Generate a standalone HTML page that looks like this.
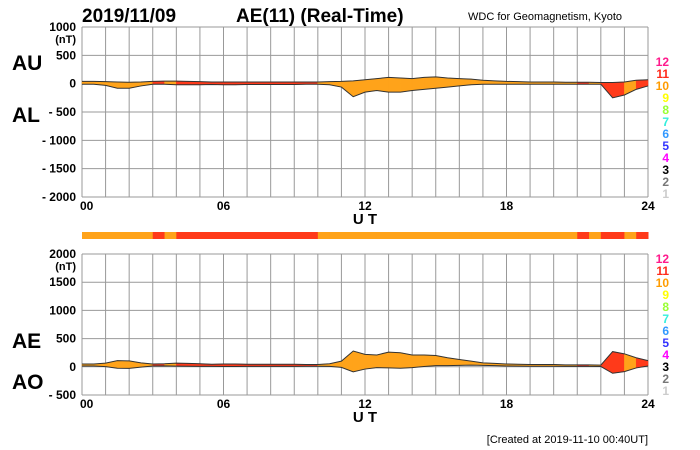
<!DOCTYPE html>
<html><head><meta charset="utf-8"><style>
body{margin:0;background:#fff;}
svg{display:block;font-family:"Liberation Sans",sans-serif;}
</style></head><body>
<svg id="c" width="700" height="450" viewBox="0 0 700 450">
<text x="82" y="22" font-size="19" font-weight="bold">2019/11/09</text>
<text x="236" y="22" font-size="19" font-weight="bold">AE(11) (Real-Time)</text>
<text x="468" y="20" font-size="11">WDC for Geomagnetism, Kyoto</text>
<text x="12" y="70" font-size="21" font-weight="bold">AU</text>
<text x="12" y="122" font-size="21" font-weight="bold">AL</text>
<text x="12" y="348" font-size="21" font-weight="bold">AE</text>
<text x="12" y="389" font-size="21" font-weight="bold">AO</text>
<text x="648" y="443" font-size="11" text-anchor="end">[Created at 2019-11-10 00:40UT]</text>
<g id="g"></g>
</svg>
<script>
const hours=[];for(let i=0;i<=48;i++)hours.push(i/2);
const AU=[40,40,35,30,25,30,40,45,45,40,35,30,30,30,30,30,30,30,30,30,30,35,40,50,70,90,110,100,90,110,120,100,90,80,60,50,40,35,30,30,30,25,25,25,20,20,30,60,70];
const AL=[-10,-10,-30,-80,-80,-40,-10,-10,-20,-20,-20,-15,-20,-20,-15,-15,-15,-15,-15,-10,-10,-20,-60,-230,-150,-120,-150,-150,-120,-100,-80,-60,-40,-20,-10,-10,-10,-10,-10,-10,-10,-10,-10,-10,-10,-250,-200,-100,-40];
const stations=[10,10,10,10,10,10,11,10,11,11,11,11,11,11,11,11,11,11,11,11,10,10,10,10,10,10,10,10,10,10,10,10,10,10,10,10,10,10,10,10,10,10,11,10,11,11,10,11];
const xTicks=["00","06","12","18","24"];
const topTicks=[1000,500,0,-500,-1000,-1500,-2000];
const botTicks=[2000,1500,1000,500,0,-500];
const legendNums=[12,11,10,9,8,7,6,5,4,3,2,1];
const legendCols=["#ff1a8c","#ff2a1a","#ff9c00","#ffff00","#99ff33","#33eedd","#3399ff","#3333ff","#ff00ff","#000","#777","#ccc"];
const colFor=n=>n>=11?"#ff3a1a":"#ffa31a";
const NS="http://www.w3.org/2000/svg",G=document.getElementById('g');
function el(t,a,txt){const e=document.createElementNS(NS,t);for(const k in a)e.setAttribute(k,a[k]);if(txt!==undefined)e.textContent=txt;G.appendChild(e);return e;}
const X0=82,X1=648;const x=h=>X0+(X1-X0)*h/24;
function panel(top,bot,vmax,vmin,ticks,upper,lower,name,legTop){
  const y=v=>top+(vmax-v)/(vmax-vmin)*(bot-top);
  for(let h=0;h<=24;h++){const g=el('line',{x1:x(h),x2:x(h),y1:top,y2:bot,stroke:'#999','stroke-width':1});}
  for(let v=vmin;v<=vmax;v+=500){const g=el('line',{x1:X0,x2:X1,y1:y(v),y2:y(v),stroke:'#999','stroke-width':1});}
  ticks.forEach((v,i)=>{const t=el('text',{x:76,y:y(v)+4,'font-size':12,'font-weight':'bold','text-anchor':'end'},v<0?'- '+(-v):String(v));});
  const u=el('text',{x:76,y:y(vmax)+16,'font-size':11,'font-weight':'bold','text-anchor':'end'},'(nT)');
  for(let i=0;i<48;i++){const p=el('polygon',{points:`${x(hours[i])},${y(upper[i])} ${x(hours[i+1])},${y(upper[i+1])} ${x(hours[i+1])},${y(lower[i+1])} ${x(hours[i])},${y(lower[i])}`,fill:colFor(stations[i]),stroke:colFor(stations[i]),'stroke-width':0.5});}
  [upper,lower].forEach(arr=>{const l=el('polyline',{points:arr.map((v,i)=>x(hours[i])+','+y(v)).join(' '),fill:'none',stroke:'#333','stroke-width':1});});
  xTicks.forEach((t,i)=>{const h=i*6;const e=el('text',{x:i==0?x(h)-2:x(h),y:bot+13,'font-size':12,'font-weight':'bold','text-anchor':i==0?'start':'middle'},t);});
  const ut=el('text',{x:x(12),y:bot+27,'font-size':15,'font-weight':'bold','text-anchor':'middle'},'U T');
  legendNums.forEach((n,i)=>{const e=el('text',{x:669,y:legTop+i*12,'font-size':12,'font-weight':'bold','text-anchor':'end',fill:legendCols[i]},String(n));});
}
panel(27,197,1000,-2000,topTicks,AU,AL,'au-al',66);
const AE=AU.map((v,i)=>v-AL[i]);const AO=AU.map((v,i)=>(v+AL[i])/2);
panel(254,395,2000,-500,botTicks,AE,AO,'ae-ao',263);
for(let i=0;i<48;i++){const r=el('rect',{x:x(hours[i]),y:232,width:x(hours[i+1])-x(hours[i])+0.5,height:7,fill:colFor(stations[i])});}
</script>
</body></html>
